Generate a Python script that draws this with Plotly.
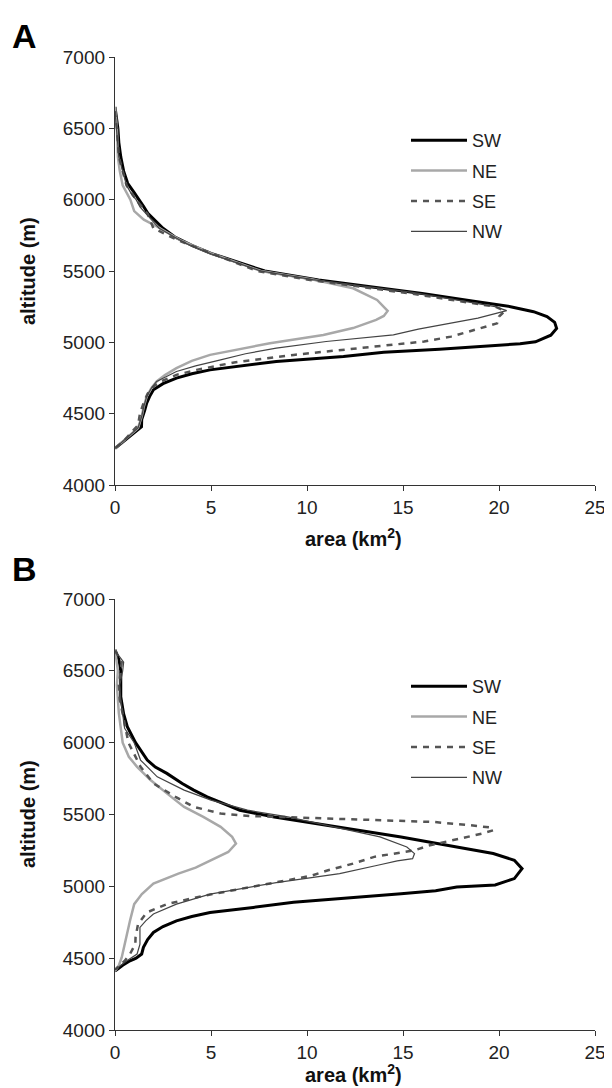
import plotly.graph_objects as go

# ---------------- Panel A data (altitude m, area km2) ----------------
A_SW_alt = [6650, 6600, 6500, 6400, 6300, 6200, 6115, 6050, 6000, 5950, 5904, 5850, 5800, 5740, 5680, 5624,
            5560, 5500, 5437, 5390, 5343, 5290, 5250, 5215, 5180, 5140, 5098, 5050, 5004, 4990, 4975, 4952,
            4930, 4901, 4866, 4835, 4807, 4780, 4749, 4710, 4667, 4620, 4574, 4525, 4458, 4408, 4362, 4315, 4257]
A_SW_area = [0, 0.05, 0.15, 0.2, 0.3, 0.45, 0.66, 1.0, 1.26, 1.5, 1.71, 2.1, 2.5, 3.1, 4.0, 5.0,
             6.4, 7.8, 10.6, 13.3, 16.0, 18.6, 20.6, 21.8, 22.5, 22.9, 23.0, 22.7, 21.9, 21.1, 19.5, 16.9,
             14.0, 11.9, 8.4, 6.5, 4.95, 4.0, 3.2, 2.5, 2.0, 1.8, 1.65, 1.55, 1.39, 1.38, 0.95, 0.5, 0]

A_NE_alt = [6650, 6500, 6300, 6200, 6100, 6000, 5920, 5860, 5810, 5717, 5624, 5560, 5500, 5440, 5379, 5297,
            5250, 5220, 5185, 5157, 5100, 5052, 4994, 4950, 4912, 4870, 4819, 4770, 4726, 4680, 4620, 4550,
            4480, 4400, 4340, 4257]
A_NE_area = [0, 0.1, 0.15, 0.25, 0.4, 0.8, 1.0, 1.5, 2.2, 3.4, 5.0, 6.3, 7.6, 10.3, 12.4, 13.65,
             14.0, 14.2, 14.0, 13.6, 12.4, 10.85, 8.07, 6.3, 4.95, 4.0, 3.2, 2.6, 2.17, 1.9, 1.65, 1.5,
             1.39, 1.2, 0.7, 0]

A_SE_alt = [6620, 6500, 6300, 6100, 6000, 5900, 5800, 5720, 5620, 5500, 5440, 5340, 5250, 5220, 5180, 5133,
            5086, 5040, 5006, 4959, 4912, 4859, 4807, 4772, 4726, 4690, 4640, 4580, 4500, 4420, 4360, 4300, 4257]
A_SE_area = [0, 0.1, 0.2, 0.6, 1.1, 1.7, 2.0, 3.2, 5.1, 7.4, 10.0, 15.5, 19.8, 20.3, 20.0, 19.9,
             18.7, 17.5, 16.1, 12.8, 9.3, 6.2, 4.25, 3.2, 2.4, 2.0, 1.7, 1.5, 1.3, 1.2, 0.8, 0.4, 0]

A_NW_alt = [6620, 6500, 6300, 6100, 6030, 6000, 5950, 5800, 5700, 5620, 5560, 5500, 5440, 5350, 5250, 5222,
            5170, 5133, 5092, 5052, 5006, 4959, 4920, 4877, 4835, 4796, 4726, 4680, 4620, 4550, 4480, 4400,
            4340, 4257]
A_NW_area = [0, 0.08, 0.2, 0.6, 0.9, 1.1, 1.3, 2.3, 3.6, 5.0, 6.3, 7.6, 10.3, 15.5, 19.8, 20.4,
             18.9, 17.5, 15.8, 14.5, 11.0, 8.4, 6.8, 5.5, 4.2, 3.2, 2.17, 1.9, 1.65, 1.5, 1.39, 1.2,
             0.7, 0]

# ---------------- Panel B data ----------------
B_SW_alt = [6646, 6580, 6500, 6400, 6320, 6200, 6111, 6000, 5940, 5879, 5830, 5786, 5716, 5670, 5623, 5580,
            5530, 5483, 5414, 5344, 5274, 5228, 5181, 5123, 5054, 5010, 4995, 4969, 4949, 4918, 4890, 4853,
            4818, 4790, 4760, 4720, 4679, 4630, 4575, 4529, 4500, 4482, 4450, 4410]
B_SW_area = [0, 0.2, 0.3, 0.3, 0.3, 0.45, 0.64, 1.07, 1.35, 1.68, 2.1, 2.7, 3.5, 4.1, 4.8, 5.6,
             6.5, 8.3, 11.7, 14.9, 17.8, 19.7, 20.8, 21.2, 20.8, 19.8, 17.8, 16.7, 14.9, 11.9, 9.3, 7.2,
             4.95, 4.0, 3.2, 2.5, 2.0, 1.7, 1.48, 1.39, 1.1, 0.78, 0.4, 0]

B_NE_alt = [6650, 6500, 6400, 6205, 6000, 5902, 5832, 5740, 5647, 5553, 5483, 5414, 5344, 5298, 5239, 5181,
            5130, 5088, 5061, 5019, 4946, 4876, 4760, 4644, 4552, 4505, 4450, 4410]
B_NE_area = [0, 0.15, 0.1, 0.2, 0.4, 0.72, 1.15, 1.85, 2.7, 3.6, 4.6, 5.5, 6.1, 6.3, 5.9, 5.0,
             4.2, 3.3, 2.8, 2.0, 1.4, 1.0, 0.78, 0.6, 0.46, 0.35, 0.2, 0]

B_SE_alt = [6640, 6560, 6500, 6400, 6300, 6200, 6000, 5832, 5716, 5623, 5553, 5507, 5490, 5475, 5460, 5448,
            5425, 5409, 5390, 5367, 5333, 5286, 5251, 5228, 5205, 5158, 5112, 5073, 5003, 4934, 4876, 4818,
            4737, 4645, 4598, 4529, 4480, 4420]
B_SE_area = [0, 0.35, 0.3, 0.2, 0.25, 0.4, 0.7, 1.33, 2.0, 3.15, 4.1, 5.5, 7.0, 10.4, 13.65, 16.6,
             18.5, 19.6, 19.7, 19.1, 18.0, 16.4, 15.6, 14.5, 13.5, 12.4, 11.1, 10.2, 7.4, 4.6, 2.7, 1.65,
             1.2, 1.07, 1.06, 0.78, 0.5, 0]

B_NW_alt = [6640, 6560, 6500, 6400, 6300, 6100, 6000, 5879, 5762, 5670, 5600, 5530, 5483, 5414, 5344, 5274,
            5228, 5193, 5177, 5150, 5119, 5088, 5026, 4946, 4876, 4807, 4760, 4714, 4598, 4529, 4480, 4420]
B_NW_area = [0, 0.45, 0.4, 0.25, 0.3, 0.5, 1.0, 1.33, 2.2, 3.6, 5.0, 6.9, 9.0, 11.4, 13.8, 15.2,
             15.6, 15.5, 14.7, 13.8, 12.8, 11.7, 8.4, 4.95, 3.2, 2.0, 1.6, 1.3, 1.3, 1.15, 0.6, 0]

series_names = ["SW", "NE", "SE", "NW"]
x_ticks = [0, 5, 10, 15, 20, 25]
y_ticks = [4000, 4500, 5000, 5500, 6000, 6500, 7000]
panel_letters = ["A", "B"]
x_title = "area (km<sup>2</sup>)"
y_title = "altitude (m)"

styles = {
    "SW": dict(color="#000000", width=3, dash="solid"),
    "NE": dict(color="#a8a8a8", width=2.5, dash="solid"),
    "SE": dict(color="#555555", width=2.5, dash="6px,6px"),
    "NW": dict(color="#444444", width=1.2, dash="solid"),
}

panelA = {"SW": (A_SW_area, A_SW_alt), "NE": (A_NE_area, A_NE_alt),
          "SE": (A_SE_area, A_SE_alt), "NW": (A_NW_area, A_NW_alt)}
panelB = {"SW": (B_SW_area, B_SW_alt), "NE": (B_NE_area, B_NE_alt),
          "SE": (B_SE_area, B_SE_alt), "NW": (B_NW_area, B_NW_alt)}

fig = go.Figure()
for panel, xa, ya, leg in [(panelA, "x", "y", "legend"), (panelB, "x2", "y2", "legend2")]:
    for name in series_names:
        xs, ys = panel[name]
        fig.add_trace(go.Scatter(x=xs, y=ys, mode="lines", name=name, line=styles[name],
                                 xaxis=xa, yaxis=ya, legend=leg, legendgroup=name + leg))

# The page body has an 8px margin, so the figure is sized to fit the window after it.
OFF = 8
W, H = 612 - OFF, 1088 - OFF
FONT = "Liberation Sans, Arial, sans-serif"

def px(x):
    return (x - OFF) / W

def py(y):
    return 1 - (y - OFF) / H

def xaxis_cfg(anchor):
    return dict(domain=[px(115), px(595)], range=[0, 25], tickvals=x_ticks, ticks="outside", ticklen=5,
                tickwidth=1, tickcolor="#333", showline=True, linecolor="#333", linewidth=1.3,
                showgrid=False, zeroline=False, anchor=anchor, automargin=False,
                tickfont=dict(family=FONT, size=19, color="#222"))

def yaxis_cfg(dom, anchor):
    return dict(domain=dom, range=[4000, 7000], tickvals=y_ticks, ticks="outside", ticklen=5,
                tickwidth=1, tickcolor="#333", showline=True, linecolor="#333", linewidth=1.3,
                showgrid=False, zeroline=False, anchor=anchor, automargin=False,
                tickfont=dict(family=FONT, size=19, color="#222"))

legend_common = dict(xanchor="left", yanchor="top", bgcolor="rgba(0,0,0,0)", itemwidth=56,
                     font=dict(family=FONT, size=18, color="#222"), traceorder="grouped",
                     tracegroupgap=4)

annotations = []
for letter, cap_y, plot_mid, xtitle_y in [(panel_letters[0], 36, 271, 537), (panel_letters[1], 569, 814, None)]:
    annotations.append(dict(text="<b>" + letter + "</b>", x=px(10), y=py(cap_y), xref="paper",
                            yref="paper", xanchor="left", yanchor="middle", showarrow=False,
                            font=dict(family=FONT, size=34, color="#000")))
    annotations.append(dict(text="<b>" + y_title + "</b>", x=px(28), y=py(plot_mid), xref="paper",
                            yref="paper", xanchor="center", yanchor="middle", textangle=-90,
                            showarrow=False, font=dict(family=FONT, size=20, color="#111")))
    if xtitle_y is not None:
        annotations.append(dict(text="<b>" + x_title + "</b>", x=px(353), y=py(xtitle_y), xref="paper",
                                yref="paper", xanchor="center", yanchor="middle",
                                showarrow=False, font=dict(family=FONT, size=20, color="#111")))
    else:
        annotations.append(dict(text="<b>" + x_title + "</b>", x=px(353), y=0, xref="paper",
                                yref="paper", xanchor="center", yanchor="bottom",
                                showarrow=False, font=dict(family=FONT, size=20, color="#111")))

fig.update_layout(
    width=W, height=H, margin=dict(l=0, r=0, t=0, b=0),
    paper_bgcolor="white", plot_bgcolor="white",
    xaxis=xaxis_cfg("y"), yaxis=yaxis_cfg([py(485), py(57)], "x"),
    xaxis2=xaxis_cfg("y2"), yaxis2=yaxis_cfg([py(1030), py(599)], "x2"),
    legend=dict(x=px(406), y=py(122), **legend_common),
    legend2=dict(x=px(406), y=py(668), **legend_common),
    annotations=annotations,
    showlegend=True,
)

fig.write_html("out.html")
